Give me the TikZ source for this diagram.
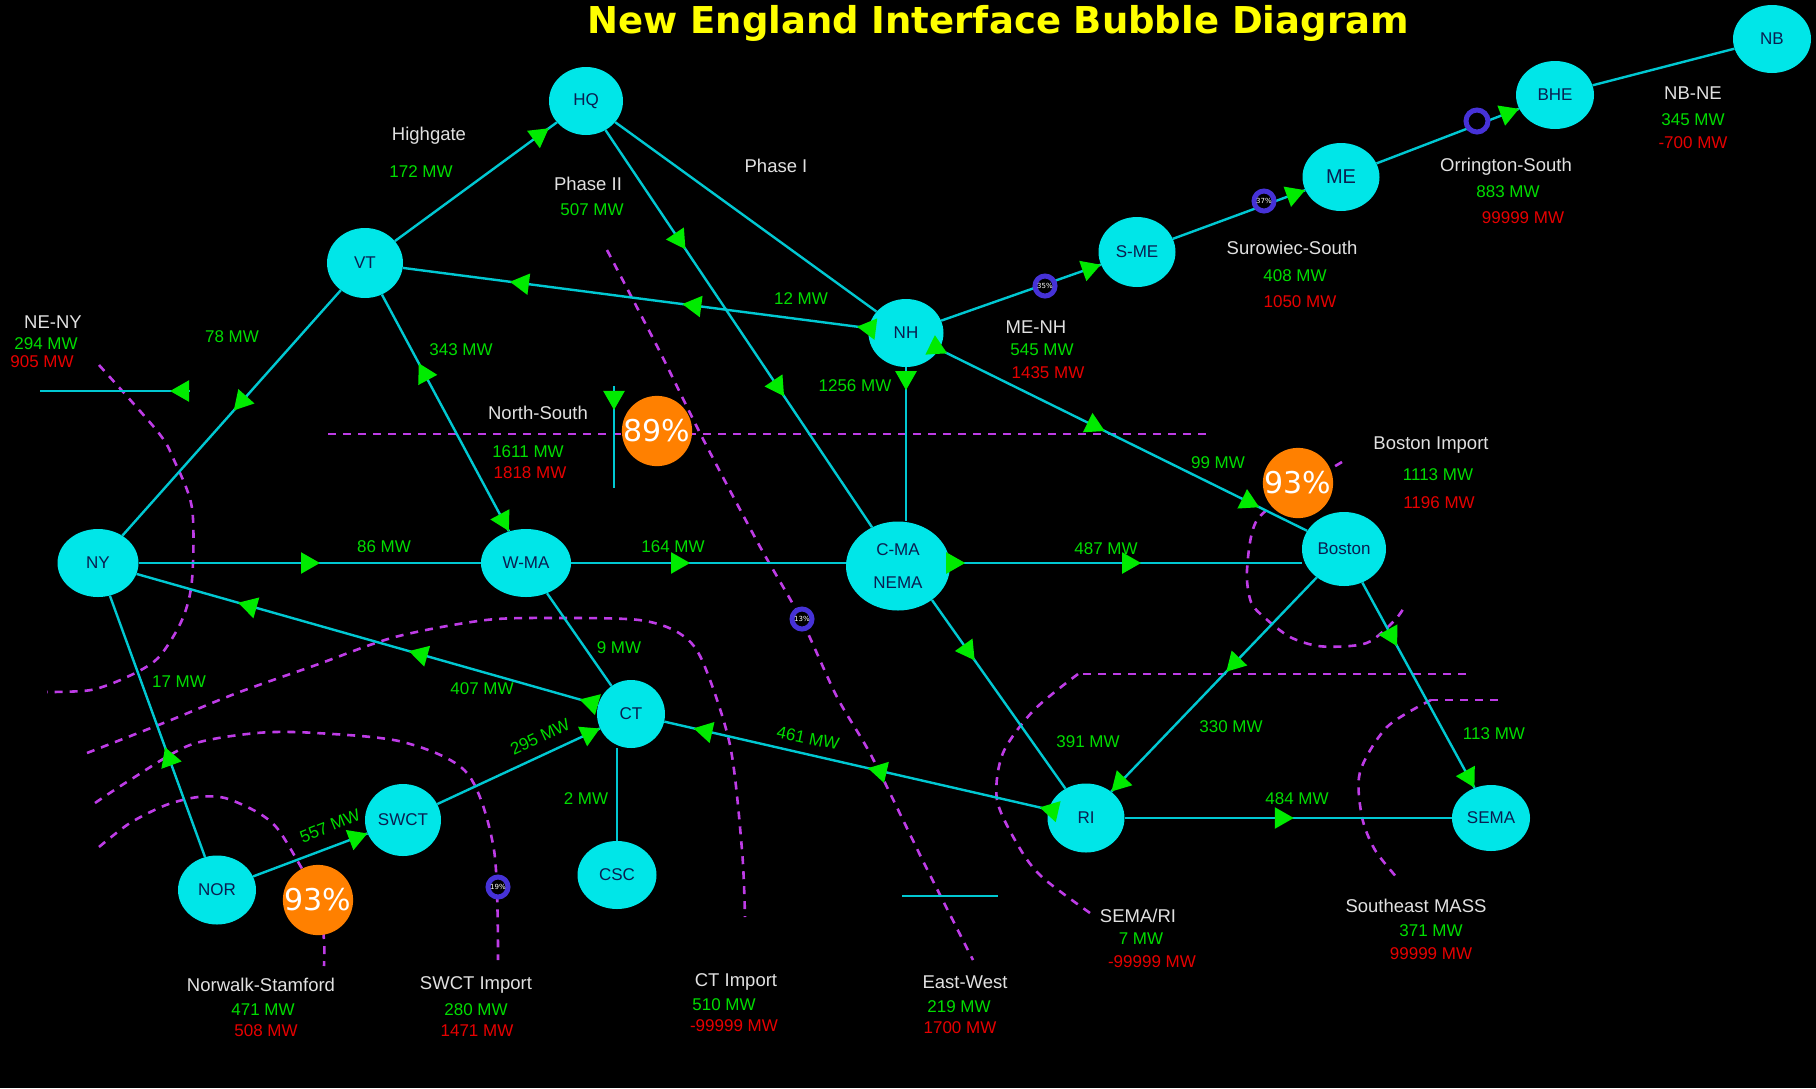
\documentclass[tikz,border=0pt]{standalone}
\usepackage{fontspec}
\setmainfont{Liberation Sans}
\newfontfamily\dvs{DejaVu Sans}
\usetikzlibrary{arrows.meta,decorations.markings,shapes.geometric}
\definecolor{bub}{RGB}{0,230,232}
\definecolor{lin}{RGB}{0,200,210}
\definecolor{arr}{RGB}{0,235,0}
\definecolor{vio}{RGB}{190,60,230}
\definecolor{gtx}{RGB}{0,220,0}
\definecolor{rtx}{RGB}{230,0,0}
\definecolor{wtx}{RGB}{225,225,225}
\definecolor{ntx}{RGB}{10,30,80}
\definecolor{org}{RGB}{255,128,0}
\definecolor{rng}{RGB}{70,50,215}
\definecolor{ttl}{RGB}{255,255,0}
\tikzset{
  tri/.tip={Triangle[length=19pt,width=21pt,color=arr]},
  fw/.style={postaction={decorate,decoration={markings,mark=at position #1 with {\arrow{tri}}}}},
  bw/.style={postaction={decorate,decoration={markings,mark=at position #1 with {\arrowreversed{tri}}}}},
  cline/.style={draw=lin,line width=2.4pt},
  dsh/.style={draw=vio,line width=2.6pt,dash pattern=on 8pt off 7pt},
  bubble/.style n args={2}{ellipse,fill=bub,minimum width=#1,minimum height=#2,inner sep=0pt,text=ntx,font=\fontsize{17}{20}\selectfont},
  pct/.style={circle,fill=org,minimum size=68pt,inner sep=0pt,text=white,font=\dvs\fontsize{30}{32}\selectfont},
  ring/.style={circle,draw=rng,line width=5pt,fill=black,minimum size=20pt,inner sep=0pt,text=white,font=\dvs\fontsize{7}{8}\selectfont},
  lw/.style={text=wtx,font=\fontsize{18.5}{21}\selectfont,inner sep=0pt},
  lg/.style={text=gtx,font=\fontsize{17}{20}\selectfont,inner sep=0pt},
  lr/.style={text=rtx,font=\fontsize{17}{20}\selectfont,inner sep=0pt},
}
\begin{document}
\begin{tikzpicture}[x=1pt,y=-1pt]
\path[use as bounding box,fill=black] (0,0) rectangle (1816,1088);

% title
\node[anchor=base,text=ttl,font=\dvs\fontsize{37}{42}\selectfont\bfseries] (title) at (998,33) {New England Interface Bubble Diagram};

% interface boundaries (dashed)
\draw[dsh] (328,434) -- (1208,434);
\draw[dsh] plot[smooth] coordinates {(99,365) (158,432) (174,460) (192,508) (192,580) (182,620) (158,658) (127,677) (91,690) (47,692)};
\draw[dsh] plot[smooth] coordinates {(87,753) (166,722) (237,693) (316,665) (395,637) (486,620) (560,618) (639,620) (679,633) (702,660) (730,745) (742,850) (745,917)};
\draw[dsh] plot[smooth] coordinates {(95,803) (130,780) (190,745) (257,733) (316,733) (403,742) (467,773) (494,850) (498,960)};
\draw[dsh] plot[smooth] coordinates {(99,847) (130,823) (166,805) (198,797) (225,798) (257,812) (277,828) (297,860) (318,900) (324,940) (324,966)};
\draw[dsh] plot[smooth] coordinates {(607,250) (659,350) (702,437) (758,543) (801,619) (837,697) (872,757) (924,863) (973,960)};
\draw[dsh] (1466,674) -- (1078,674);
\draw[dsh] plot[smooth] coordinates {(1078,674) (1034,710) (1003,753) (997,800) (1019,847) (1042,877) (1090,913)};
\draw[dsh] (1498,700) -- (1431,700);
\draw[dsh] plot[smooth] coordinates {(1431,700) (1387,727) (1360,772) (1362,817) (1375,850) (1399,880)};
\draw[dsh] plot[smooth] coordinates {(1342,462) (1300,488) (1257,520) (1247,570) (1251,602) (1265,618) (1290,637) (1318,646) (1350,646) (1371,641) (1395,620) (1405,606)};

% bubbles
\node[bubble={74pt}{68pt}] (HQ) at (586,101) {HQ};
\node[bubble={76pt}{70pt}] (VT) at (365,263) {VT};
\node[bubble={81pt}{68pt}] (NY) at (98,563) {NY};
\node[bubble={90pt}{68pt}] (WMA) at (526,563) {W-MA};
\node[bubble={104pt}{89pt},align=center,font=\fontsize{17}{33}\selectfont] (CMA) at (898,566) {C-MA\\NEMA};
\node[bubble={75pt}{68pt}] (NH) at (906,333) {NH};
\node[bubble={77pt}{70pt}] (SME) at (1137,252) {S-ME};
\node[bubble={77pt}{68pt},font=\fontsize{20}{22}\selectfont] (ME) at (1341,177) {ME};
\node[bubble={78pt}{68pt}] (BHE) at (1555,95) {BHE};
\node[bubble={78pt}{68pt}] (NB) at (1772,39) {NB};
\node[bubble={84pt}{74pt}] (Boston) at (1344,549) {Boston};
\node[bubble={68pt}{68pt}] (CT) at (631,714) {CT};
\node[bubble={76pt}{72pt}] (SWCT) at (403,820) {SWCT};
\node[bubble={78pt}{69pt}] (NOR) at (217,890) {NOR};
\node[bubble={79pt}{68pt}] (CSC) at (617,875) {CSC};
\node[bubble={77pt}{69pt}] (RI) at (1086,818) {RI};
\node[bubble={78pt}{66pt}] (SEMA) at (1491,818) {SEMA};

% percentage bubbles
\node[pct] (pNS) at (657,431) {89\%};
\node[pct] (pBI) at (1298,483) {93\%};
\node[pct] (pNSt) at (318,900) {93\%};

% connectors
\draw[cline,fw=0.95] (VT) -- (HQ);
\draw[cline,fw=0.30,fw=0.67] (HQ) -- (CMA);
\draw[cline] (HQ) -- (NH);
\draw[cline,bw=0.23,bw=0.60,bw=0.975] (VT) -- (NH);
\draw[cline,fw=0.49] (VT) -- (NY);
\draw[cline,bw=0.29,fw=0.999] (VT) -- (WMA);
\draw[cline,fw=0.53] (NY) -- (WMA);
\draw[cline,fw=0.433] (WMA) -- (WMA -| CMA.west);
\draw[cline,fw=15pt,fw=0.543] (CMA.east |- WMA) -- (WMA -| Boston.west);
\draw[cline,fw=23pt] (NH.south) -- (NH.south |- CMA.north);
\draw[cline,fw=9pt,fw=0.45,fw=0.87] (NH) -- (Boston);
\draw[cline,fw=0.999] (NH) -- (SME);
\draw[cline,fw=0.999] (SME) -- (ME);
\draw[cline,fw=0.999] (ME) -- (BHE);
\draw[cline] (BHE) -- (NB);
\draw[cline,bw=0.22,bw=0.59,bw=0.96] (NY) -- (CT);
\draw[cline] (WMA) -- (CT);
\draw[cline,fw=0.999] (SWCT) -- (CT);
\draw[cline,fw=0.999] (NOR) -- (SWCT);
\draw[cline,fw=0.42] (NOR) -- (NY);
\draw[cline] (CSC |- CT.south) -- (CSC);
\draw[cline,bw=0.076,bw=0.53,bw=0.977] (CT) -- (RI);
\draw[cline,fw=0.32] (CMA.-45) -- (RI.125);
\draw[cline,fw=0.44,fw=0.999] (Boston) -- (RI);
\draw[cline,fw=0.31,fw=0.999] (Boston) -- (SEMA);
\draw[cline,fw=0.517] (RI) -- (SEMA);

\coordinate (neny1) at (40,391);
\coordinate (neny2) at (190,391);
\draw[cline,bw=0.867] (neny1) -- (neny2);
\coordinate (ns1) at (614,386);
\coordinate (ns2) at (614,488);
\draw[cline,fw=0.235] (ns1) -- (ns2);
\coordinate (ew1) at (902,896);
\coordinate (ew2) at (998,896);
\draw[cline] (ew1) -- (ew2);

% small rings
\node[ring] (rMENH) at (1045,286) {35\%};
\node[ring] (rSur) at (1264,201) {37\%};
\node[ring,minimum size=22pt] (rOrr) at (1477,121) {};
\node[ring] (rEW) at (802,619) {13\%};
\node[ring] (rSWCT) at (498,887) {19\%};

% labels
\node[lw] (t1) at (429,136) {Highgate};
\node[lg] (t2) at (421,172) {172 MW};
\node[lw] (t3) at (588,184) {Phase II};
\node[lg] (t4) at (592,210) {507 MW};
\node[lw] (t5) at (776,166) {Phase I};
\node[lg] (t6) at (801,299) {12 MW};
\node[lw] (t7) at (53,322) {NE-NY};
\node[lg] (t8) at (46,344) {294 MW};
\node[lr] (t9) at (42,362) {905 MW};
\node[lg] (t10) at (232,337) {78 MW};
\node[lg] (t11) at (461,350) {343 MW};
\node[lw] (t12) at (538,413) {North-South};
\node[lg] (t13) at (528,452) {1611 MW};
\node[lr] (t14) at (530,473) {1818 MW};
\node[lw] (t15) at (1036,327) {ME-NH};
\node[lg] (t16) at (1042,350) {545 MW};
\node[lr] (t17) at (1048,373) {1435 MW};
\node[lg] (t18) at (855,386) {1256 MW};
\node[lw] (t19) at (1292,248) {Surowiec-South};
\node[lg] (t20) at (1295,276) {408 MW};
\node[lr] (t21) at (1300,302) {1050 MW};
\node[lw] (t22) at (1506,167) {Orrington-South};
\node[lg] (t23) at (1508,192) {883 MW};
\node[lr] (t24) at (1523,218) {99999 MW};
\node[lw] (t25) at (1693,93) {NB-NE};
\node[lg] (t26) at (1693,120) {345 MW};
\node[lr] (t27) at (1693,143) {-700 MW};
\node[lg] (t28) at (1218,463) {99 MW};
\node[lw] (t29) at (1431,445) {Boston Import};
\node[lg] (t30) at (1438,475) {1113 MW};
\node[lr] (t31) at (1439,503) {1196 MW};
\node[lg] (t32) at (384,547) {86 MW};
\node[lg] (t33) at (673,547) {164 MW};
\node[lg] (t34) at (1106,549) {487 MW};
\node[lg] (t35) at (619,648) {9 MW};
\node[lg] (t36) at (179,682) {17 MW};
\node[lg] (t37) at (482,689) {407 MW};
\node[lg,rotate=25] (t38) at (540,737) {295 MW};
\node[lg,rotate=22] (t39) at (330,826) {557 MW};
\node[lg,rotate=-12] (t40) at (808,738) {461 MW};
\node[lg] (t41) at (586,799) {2 MW};
\node[lg] (t42) at (1088,742) {391 MW};
\node[lg] (t43) at (1231,727) {330 MW};
\node[lg] (t44) at (1494,734) {113 MW};
\node[lg] (t45) at (1297,799) {484 MW};
\node[lw] (t46) at (261,985) {Norwalk-Stamford};
\node[lg] (t47) at (263,1010) {471 MW};
\node[lr] (t48) at (266,1031) {508 MW};
\node[lw] (t49) at (476,985) {SWCT Import};
\node[lg] (t50) at (476,1010) {280 MW};
\node[lr] (t51) at (477,1031) {1471 MW};
\node[lw] (t52) at (736,982) {CT Import};
\node[lg] (t53) at (724,1005) {510 MW};
\node[lr] (t54) at (734,1026) {-99999 MW};
\node[lw] (t55) at (965,982) {East-West};
\node[lg] (t56) at (959,1007) {219 MW};
\node[lr] (t57) at (960,1028) {1700 MW};
\node[lw] (t58) at (1138,916) {SEMA/RI};
\node[lg] (t59) at (1141,939) {7 MW};
\node[lr] (t60) at (1152,962) {-99999 MW};
\node[lw] (t61) at (1416,906) {Southeast MASS};
\node[lg] (t62) at (1431,931) {371 MW};
\node[lr] (t63) at (1431,954) {99999 MW};
\end{tikzpicture}
\end{document}
